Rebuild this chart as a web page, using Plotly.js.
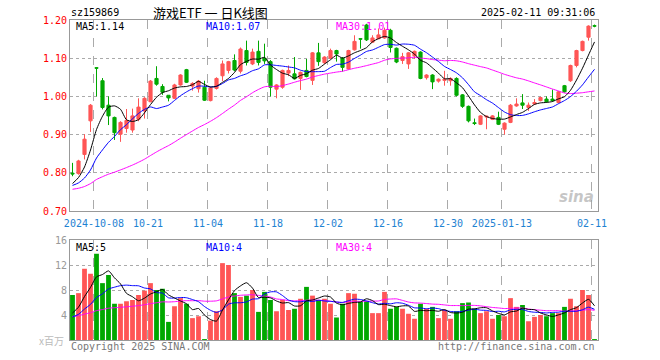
<!DOCTYPE html>
<html><head><meta charset="utf-8">
<script src="https://cdn.plot.ly/plotly-3.0.1.min.js"></script>
<style>html,body{margin:0;padding:0;background:#fff}#chart{width:660px;height:360px}</style>
</head><body><div id="chart"></div>
<script>
const dates = [
"2024-09-25","2024-09-26","2024-09-27","2024-09-30",
"2024-10-08","2024-10-09","2024-10-10","2024-10-11","2024-10-14","2024-10-15","2024-10-16","2024-10-17","2024-10-18","2024-10-21",
"2024-10-22","2024-10-23","2024-10-24","2024-10-25","2024-10-28","2024-10-29","2024-10-30","2024-10-31",
"2024-11-01","2024-11-04","2024-11-05","2024-11-06","2024-11-07","2024-11-08","2024-11-11","2024-11-12","2024-11-13","2024-11-14",
"2024-11-15","2024-11-18","2024-11-19","2024-11-20","2024-11-21","2024-11-22","2024-11-25","2024-11-26","2024-11-27","2024-11-28","2024-11-29",
"2024-12-02","2024-12-03","2024-12-04","2024-12-05","2024-12-06","2024-12-09","2024-12-10","2024-12-11","2024-12-12","2024-12-13",
"2024-12-16","2024-12-17","2024-12-18","2024-12-19","2024-12-20","2024-12-23","2024-12-24","2024-12-25","2024-12-26","2024-12-27",
"2024-12-30","2024-12-31",
"2025-01-02","2025-01-03","2025-01-06","2025-01-07","2025-01-08","2025-01-09","2025-01-10","2025-01-13","2025-01-14","2025-01-15",
"2025-01-16","2025-01-17","2025-01-20","2025-01-21","2025-01-22","2025-01-23","2025-01-24","2025-01-27",
"2025-02-05","2025-02-06","2025-02-07","2025-02-10","2025-02-11"];

const open = [
0.799,0.798,0.848,0.936,1.075,1.041,0.977,0.945,0.901,0.916,
0.912,0.940,0.962,0.986,1.047,1.026,1.003,0.995,1.030,1.070,
1.027,1.020,1.024,0.989,1.021,1.054,1.068,1.094,1.066,1.120,
1.085,1.118,1.100,1.091,1.019,1.024,1.061,1.059,1.047,1.068,
1.042,1.114,1.088,1.100,1.120,1.100,1.072,1.122,1.151,1.187,
1.142,1.151,1.153,1.173,1.126,1.094,1.085,1.106,1.116,1.049,
1.056,1.040,1.042,1.041,1.047,1.004,0.974,0.931,0.927,0.946,
0.940,0.945,0.914,0.932,0.975,0.983,0.971,0.980,0.989,0.993,
0.993,0.984,1.028,1.041,1.081,1.120,1.155,1.185];
const high = [
0.826,0.834,0.901,0.980,1.076,1.048,1.000,0.947,0.935,0.967,
0.968,0.995,0.998,1.043,1.079,1.032,1.003,1.033,1.058,1.072,
1.037,1.043,1.041,1.024,1.050,1.094,1.093,1.110,1.128,1.146,
1.125,1.146,1.138,1.095,1.032,1.070,1.081,1.103,1.065,1.098,
1.116,1.140,1.105,1.125,1.122,1.103,1.122,1.160,1.152,1.190,
1.160,1.178,1.180,1.177,1.128,1.114,1.116,1.120,1.118,1.058,
1.058,1.047,1.067,1.050,1.050,1.006,0.976,0.942,0.951,0.950,
0.951,0.960,0.932,0.980,0.995,1.006,0.984,0.993,0.999,1.000,
1.018,1.014,1.030,1.083,1.122,1.146,1.186,1.188];
const low = [
0.791,0.795,0.835,0.907,1.000,0.966,0.925,0.886,0.881,0.905,
0.905,0.935,0.942,0.985,1.028,1.004,0.987,0.993,1.028,1.035,
1.015,1.010,0.988,0.987,1.018,1.040,1.060,1.066,1.060,1.081,
1.082,1.081,1.085,1.000,0.995,1.020,1.053,1.044,1.017,1.050,
1.030,1.080,1.085,1.098,1.091,1.065,1.070,1.120,1.125,1.145,
1.140,1.150,1.151,1.115,1.087,1.085,1.072,1.098,1.045,1.044,
1.019,1.036,1.028,1.028,1.000,0.970,0.932,0.925,0.925,0.914,
0.938,0.925,0.900,0.930,0.973,0.967,0.962,0.978,0.987,0.984,
0.986,0.982,1.010,1.038,1.076,1.118,1.146,1.181];
const close = [
0.797,0.831,0.888,0.977,1.074,0.971,0.949,0.905,0.932,0.937,
0.949,0.972,0.995,1.040,1.032,1.011,0.996,1.030,1.056,1.037,
1.034,1.040,0.990,1.022,1.047,1.085,1.091,1.069,1.124,1.089,
1.116,1.089,1.093,1.024,1.030,1.068,1.068,1.046,1.063,1.052,
1.114,1.091,1.103,1.120,1.111,1.076,1.120,1.144,1.150,1.148,
1.153,1.161,1.173,1.128,1.090,1.104,1.114,1.118,1.047,1.056,
1.038,1.045,1.045,1.047,1.003,0.974,0.936,0.929,0.949,0.948,
0.949,0.927,0.930,0.977,0.980,0.977,0.977,0.984,0.997,0.986,
0.989,1.012,1.012,1.081,1.120,1.144,1.184,1.184];
// volume, millions
const volume = [
7.2,7.5,11.4,10.6,13.8,9.1,10.4,5.8,5.8,6.2,
6.4,7.2,7.9,9.1,8.0,8.2,2.9,5.4,6.7,5.8,
3.5,3.8,0.15,3.1,4.6,12.3,12.0,7.5,6.9,7.1,
8.0,4.5,7.7,6.4,4.6,6.4,4.8,5.0,6.6,8.5,
7.1,6.4,6.6,5.8,3.6,5.8,7.5,7.4,6.1,6.2,
4.3,4.3,7.7,5.0,5.3,5.0,4.2,3.4,5.8,5.0,
5.3,3.5,4.8,3.4,4.6,5.9,6.0,5.0,4.3,4.6,
3.4,4.0,3.8,6.7,5.3,5.6,3.0,3.7,4.0,3.8,
4.3,4.3,5.3,6.6,5.4,8.0,7.2,0.15];
// closes / volumes of the 29 sessions before the window (only feed the moving averages)
const priorClose = [0.752,0.750,0.748,0.751,0.753,0.750,0.749,0.752,0.754,0.751,
0.753,0.755,0.752,0.750,0.753,0.756,0.754,0.752,0.750,0.752,
0.764,0.760,0.766,0.762,0.758,0.752,0.750,0.755,0.805];
const priorVolume = [3.9,3.6,4.1,3.7,3.8,4.0,3.5,3.9,3.7,3.8,
4.2,3.6,3.8,3.9,3.7,3.6,4.0,3.8,3.7,3.9,
3.2,3.0,3.1,2.9,3.0,2.8,2.9,3.3,5.4];

const tickDates = ["2024-10-08","2024-10-21","2024-11-04","2024-11-18","2024-12-02","2024-12-16","2024-12-30","2025-01-13","2025-02-11"];
const tickLabels = ["2024-10-08","10-21","11-04","11-18","12-02","12-16","12-30","2025-01-13","02-11"];
const priceTicks = [0.70,0.80,0.90,1.00,1.10,1.20];
const volTicks = [4,8,12,16];

const UP = '#ff5555', DOWN = '#00a800';
const idx = dates.map((d,i)=>i);
function ma(series, prior, n){
  const all = prior.concat(series);
  return series.map((_,i)=>{ const e = prior.length+i; let s=0; for(let k=e-n+1;k<=e;k++) s+=all[k]; return s/n; });
}
const c5=ma(close,priorClose,5), c10=ma(close,priorClose,10), c30=ma(close,priorClose,30);
const v5=ma(volume,priorVolume,5), v10=ma(volume,priorVolume,10), v30=ma(volume,priorVolume,30);
const volColors = close.map((c,i)=> c>open[i] ? UP : DOWN);
const tickPos = tickDates.map(d=>dates.indexOf(d)-0.42);
const last = a => a[a.length-1];

const mono = 'DejaVu Sans Mono, monospace';
const lineStyle = (c)=>({color:c,width:1,shape:'spline',smoothing:0.6});
const traces = [
  {type:'candlestick', x:idx, open:open, high:high, low:low, close:close, xaxis:'x', yaxis:'y',
   increasing:{line:{color:UP,width:1},fillcolor:UP}, decreasing:{line:{color:DOWN,width:1},fillcolor:DOWN},
   whiskerwidth:0, hoverinfo:'skip', showlegend:false},
  {type:'scatter',mode:'lines',x:idx,y:c30,line:lineStyle('#ff00ff'),xaxis:'x',yaxis:'y',hoverinfo:'skip'},
  {type:'scatter',mode:'lines',x:idx,y:c10,line:lineStyle('#0000ff'),xaxis:'x',yaxis:'y',hoverinfo:'skip'},
  {type:'scatter',mode:'lines',x:idx,y:c5,line:lineStyle('#000000'),xaxis:'x',yaxis:'y',hoverinfo:'skip'},
  {type:'bar', x:idx, y:volume, marker:{color:volColors,line:{width:0}}, width:0.8, xaxis:'x2', yaxis:'y2', hoverinfo:'skip'},
  {type:'scatter',mode:'lines',x:idx,y:v30,line:lineStyle('#ff00ff'),xaxis:'x2',yaxis:'y2',hoverinfo:'skip'},
  {type:'scatter',mode:'lines',x:idx,y:v10,line:lineStyle('#0000ff'),xaxis:'x2',yaxis:'y2',hoverinfo:'skip'},
  {type:'scatter',mode:'lines',x:idx,y:v5,line:lineStyle('#000000'),xaxis:'x2',yaxis:'y2',hoverinfo:'skip'}
];

const W=528, H=320;
const px = v => (v-70)/W, py = v => (340-v)/H;
const ann = (text,x,y,color,xa,size,fam) => ({text:text,xref:'paper',yref:'paper',x:px(x),y:py(y),xanchor:xa||'left',yanchor:'middle',showarrow:false,font:{family:fam||mono,size:size||10,color:color}});
const xr = [-0.4167, 87.5833];
const gridX = {showgrid:true, gridcolor:'#aaaaaa', griddash:'dash', gridwidth:1};
const layout = {
  width:660, height:360, margin:{l:70,r:62,t:20,b:20}, paper_bgcolor:'#fff', plot_bgcolor:'#fff',
  showlegend:false, dragmode:false, boxgap:0.25,
  xaxis:Object.assign({anchor:'y', range:xr, tickmode:'array', tickvals:tickPos, ticktext:tickLabels,
    tickfont:{family:mono,size:10,color:'#1e82d2'}, ticks:'', ticklabelstandoff:3, showline:true, mirror:true, linecolor:'#999', linewidth:1,
    zeroline:false, rangeslider:{visible:false}, fixedrange:true}, gridX),
  xaxis2:Object.assign({anchor:'y2', matches:'x', range:xr, tickmode:'array', tickvals:tickPos, showticklabels:false, ticks:'',
    showline:true, mirror:true, linecolor:'#999', linewidth:1, zeroline:false, fixedrange:true}, gridX),
  yaxis:{domain:[(340-211)/320,1], range:[0.70,1.20], tickmode:'array', tickvals:priceTicks, tickformat:'.2f',
    tickfont:{family:mono,size:10,color:'#ff0000'}, ticks:'', showgrid:true, gridcolor:'#aaaaaa', griddash:'dot',
    showline:true, mirror:true, linecolor:'#999', linewidth:1, zeroline:false, fixedrange:true},
  yaxis2:{domain:[0,100/320], range:[0,16], tickmode:'array', tickvals:volTicks,
    tickfont:{family:mono,size:10,color:'#999999'}, ticks:'', showgrid:true, gridcolor:'#aaaaaa', griddash:'dot',
    showline:true, mirror:true, linecolor:'#999', linewidth:1, zeroline:false, fixedrange:true},
  annotations:[
    ann('sz159869',69,12,'#000'),
    ann('游戏ETF 一 日K线图',210,12,'#000','center',13,'Noto Sans CJK SC'),
    ann('2025-02-11 09:31:06',597,12,'#000','right'),
    ann('MA5:'+last(c5).toFixed(2),74,27,'#000'),
    ann('MA10:'+last(c10).toFixed(2),204,27,'#0000ff'),
    ann('MA30:'+last(c30).toFixed(2),334,27,'#ff00ff'),
    ann('MA5:'+Math.floor(last(v5)),74,247,'#000'),
    ann('MA10:'+Math.floor(last(v10)),204,247,'#0000ff'),
    ann('MA30:'+Math.floor(last(v30)),334,247,'#ff00ff'),
    ann('x百万',66,340,'#bbbbbb','right',10,'Noto Sans CJK SC'),
    ann('Copyright 2025 SINA.COM',69,346,'#777'),
    ann('http://finance.sina.com.cn',597,346,'#777','right'),
    ann('<i><b>sina</b></i>',576,197,'rgba(160,160,160,0.6)','center',15,'DejaVu Sans')
  ]
};
Plotly.newPlot('chart', traces, layout, {staticPlot:true, displayModeBar:false});
</script></body></html>
